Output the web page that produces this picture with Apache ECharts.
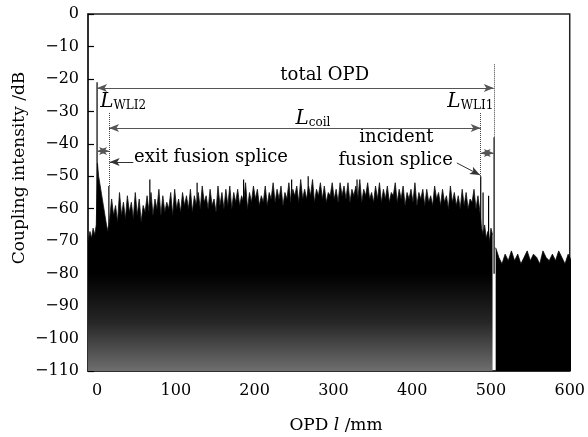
<!DOCTYPE html>
<html>
<head>
<meta charset="utf-8">
<script src="https://cdn.jsdelivr.net/npm/echarts@6/dist/echarts.min.js"></script>
<style>
  html, body { margin: 0; padding: 0; background: #fff; }
  #main { width: 588px; height: 437px; }
</style>
</head>
<body>
<div id="main"></div>
<script>
// OPD (mm) / coupling intensity (dB)
const opdLead = [-11.5, -9, -7, -5, -3, -1, 0.5, 2, 4, 6, 8, 10, 12, 14];
const dbLead = [-70, -67, -69, -66, -68, -65, -46, -50, -53, -56, -59, -62, -65, -67];

// fibre coil: body level every 5 mm from 16 mm, local peaks 2.5 mm after each
const coilStart = 16, coilStep = 5;
const dbCoilBody = [
  -63, -62, -64, -62, -63, -61, -63, -62, -64, -61,
  -61, -62, -60, -62, -61, -60, -62, -60, -61, -59,
  -60, -61, -59, -60, -58, -60, -59, -61, -59, -60,
  -59, -60, -58, -59, -58, -60, -58, -57, -59, -58,
  -59, -57, -58, -57, -59, -57, -58, -56, -58, -57,
  -57, -56, -58, -56, -57, -58, -56, -57, -58, -56,
  -57, -58, -56, -57, -58, -56, -57, -58, -57, -58,
  -57, -58, -56, -58, -57, -59, -57, -58, -59, -57,
  -59, -58, -59, -57, -59, -58, -60, -58, -59, -60,
  -59, -60, -58, -60, -61
];
const dbCoilPeak = [
  -57, -59, -55, -58, -56, -58, -55, -57, -59, -56,
  -55, -57, -54, -56, -58, -55, -54, -57, -55, -56,
  -54, -56, -55, -53, -56, -54, -57, -53, -55, -54,
  -53, -55, -54, -56, -52, -55, -53, -54, -56, -53,
  -55, -52, -54, -53, -55, -52, -54, -53, -51, -54,
  -53, -51, -54, -52, -53, -55, -52, -54, -52, -53,
  -52, -54, -53, -51, -54, -52, -55, -53, -52, -54,
  -53, -55, -52, -54, -53, -55, -54, -52, -55, -54,
  -54, -56, -53, -55, -54, -56, -53, -55, -56, -54,
  -55, -57, -54, -56
];

const opdDip = [488, 490, 492, 494, 496, 498, 500, 502];
const dbDip = [-66, -68, -65, -69, -67, -70, -66, -68];

const tailStart = 506, tailStep = 4;
const dbTail = [
  -72, -75, -77, -74, -76, -73, -76, -74, -77, -75,
  -73, -76, -74, -75, -77, -73, -75, -76, -74, -76,
  -73, -75, -77, -74, -76
];

// narrow peaks (splices / reflections)
const spikeOpd = [0, 15, 67, 127, 186, 247, 268, 330, 487, 490, 497, 504];
const spikeDb = [-21, -53, -51, -52, -51, -51, -50, -51, -50, -55, -56, -38];

const xTicks = [0, 100, 200, 300, 400, 500, 600];

const FONT = 'DejaVu Serif';

const mainData = [];
opdLead.forEach((x, i) => mainData.push([x, dbLead[i]]));
dbCoilBody.forEach((v, i) => {
  const x = coilStart + i * coilStep;
  mainData.push([x, v]);
  if (i < dbCoilPeak.length) mainData.push([x + coilStep / 2, dbCoilPeak[i]]);
});
opdDip.forEach((x, i) => mainData.push([x, dbDip[i]]));
const tailData = dbTail.map((v, i) => [tailStart + i * tailStep, v]);
const spikeData = spikeOpd.map((x, i) => [x, spikeDb[i]]);

const arrowLine = (a, b, s1, s2, color) => [
  { coord: a, symbol: s1 },
  { coord: b, symbol: s2, lineStyle: { color: color || '#555', width: 1, type: 'solid' } }
];
const dotLine = (a, b) => [
  { coord: a, symbol: 'none' },
  { coord: b, symbol: 'none', lineStyle: { color: '#444', width: 1, type: 'dotted' } }
];

const myChart = echarts.init(document.getElementById('main'));
myChart.setOption({
  animation: false,
  backgroundColor: '#fff',
  grid: { left: 88, right: 18, top: 14, bottom: 66, show: true, borderColor: '#222', borderWidth: 1.5 },
  xAxis: {
    type: 'value', min: -11.5, max: 600,
    axisLine: { show: true, onZero: false, lineStyle: { color: '#222', width: 1.5 } },
    splitLine: { show: false },
    axisTick: { inside: true, length: 5, customValues: xTicks, lineStyle: { color: '#000' } },
    axisLabel: { customValues: xTicks, margin: 12, color: '#000', fontFamily: FONT, fontSize: 16 }
  },
  yAxis: {
    type: 'value', min: -110, max: 0, interval: 10,
    axisLine: { show: true, onZero: false, lineStyle: { color: '#222', width: 1.5 } },
    splitLine: { show: false },
    axisTick: { show: true, inside: true, length: 6, lineStyle: { color: '#000', width: 1.2 } },
    axisLabel: {
      margin: 9, color: '#000', fontFamily: FONT, fontSize: 16,
      formatter: v => String(v).replace('-', '\u2212')
    }
  },
  series: [
    {
      type: 'line', data: mainData, symbol: 'none', silent: true, z: 1,
      lineStyle: { color: '#111', width: 0.8 },
      areaStyle: {
        origin: 'start', opacity: 1,
        color: {
          type: 'linear', x: 0, y: 0, x2: 0, y2: 437, global: true,
          colorStops: [
            { offset: 0, color: '#000' },
            { offset: 274 / 437, color: '#000' },
            { offset: 322 / 437, color: '#262626' },
            { offset: 371 / 437, color: '#6e6e6e' }
          ]
        }
      },
      markLine: {
        silent: true, animation: false, symbolSize: [6, 10],
        label: { show: false },
        data: [
          arrowLine([0, -22.8], [503.6, -22.8], 'arrow', 'arrow'),
          arrowLine([15.2, -35.1], [487, -35.1], 'arrow', 'arrow'),
          arrowLine([0, -42.2], [15.2, -42.2], 'arrow', 'arrow'),
          arrowLine([487, -42.8], [503.6, -42.8], 'arrow', 'arrow'),
          arrowLine([46, -45.6], [16, -45.6], 'none', 'arrow', '#333'),
          arrowLine([456.7, -45.9], [486, -49.6], 'none', 'arrow', '#333'),
          dotLine([15.2, -30.5], [15.2, -53]),
          dotLine([487, -30.5], [487, -50]),
          dotLine([503.6, -15.5], [503.6, -38])
        ]
      }
    },
    {
      type: 'line', data: tailData, symbol: 'none', silent: true, z: 1,
      lineStyle: { color: '#000', width: 0.8 },
      areaStyle: { origin: 'start', color: '#000', opacity: 1 }
    },
    {
      type: 'custom', data: spikeData, silent: true, z: 3,
      encode: { x: 0, y: 1 },
      renderItem: (params, api) => {
        const top = api.coord([api.value(0), api.value(1)]);
        const base = api.coord([api.value(0), -80]);
        return {
          type: 'line',
          shape: { x1: base[0], y1: base[1], x2: top[0], y2: top[1] },
          style: { stroke: '#000', lineWidth: 1.2 }
        };
      }
    }
  ]
});

// text annotations placed from data coordinates
const px = (x, y) => myChart.convertToPixel({ gridIndex: 0 }, [x, y]);
const sub = {
  L: { fontFamily: FONT, fontStyle: 'italic', fontSize: 20, fill: '#000', verticalAlign: 'bottom', lineHeight: 24 },
  s: { fontFamily: FONT, fontSize: 12, fill: '#000', verticalAlign: 'bottom', lineHeight: 18 }
};
const txt = (pos, text, align, size, extra) => ({
  type: 'text', x: pos[0], y: pos[1], silent: true,
  style: Object.assign({ text: text, align: align, verticalAlign: 'middle', fontFamily: FONT, fontSize: size, fill: '#000' }, extra || {})
});

myChart.setOption({
  graphic: [
    txt(px(289, -18.8), 'total OPD', 'center', 18),
    txt(px(274, -31.7), '{L|L}{s|coil}', 'center', 18, { rich: sub }),
    txt(px(4, -26.5), '{L|L}{s|WLI2}', 'left', 18, { rich: sub }),
    txt(px(503, -26.5), '{L|L}{s|WLI1}', 'right', 18, { rich: sub }),
    txt(px(47, -44.3), 'exit fusion splice', 'left', 18),
    txt(px(380, -37.9), 'incident', 'center', 18),
    txt(px(379, -45), 'fusion splice', 'center', 18),
    {
      type: 'text', x: 20, y: 168, rotation: Math.PI / 2, silent: true,
      style: { text: 'Coupling intensity /dB', align: 'center', verticalAlign: 'middle', fontFamily: FONT, fontSize: 17, fill: '#000' }
    },
    {
      type: 'text', x: 336, y: 426, silent: true,
      style: {
        text: 'OPD {i|l} /mm', align: 'center', verticalAlign: 'middle', fontFamily: FONT, fontSize: 17, fill: '#000',
        rich: { i: { fontFamily: FONT, fontStyle: 'italic', fontSize: 17, fill: '#000' } }
      }
    }
  ]
});
</script>
</body>
</html>
